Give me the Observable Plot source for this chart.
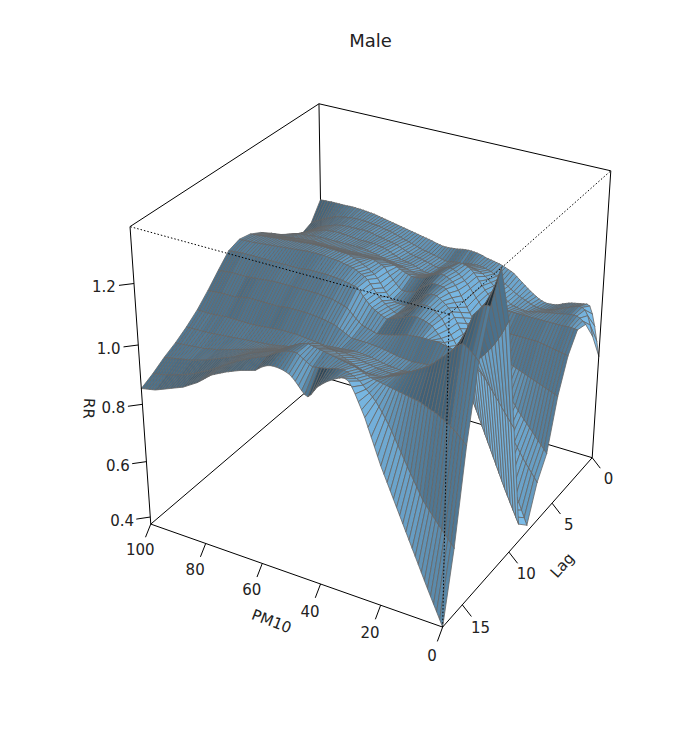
<!DOCTYPE html>
<html><head><meta charset="utf-8">
<script src="https://cdn.jsdelivr.net/npm/d3@7"></script>
<script src="https://cdn.jsdelivr.net/npm/@observablehq/plot@0.6"></script>
<style>html,body{margin:0;padding:0;background:#fff}</style></head>
<body><div id="chart"></div>
<script>
const title = "Male";
const pmValues = d3.range(0,101);
const lagValues = d3.range(0,18);
// RR x 1000, one row per lag (0..17), one column per PM10 (0..100)
const rrLag0=[749,800,850,890,915,919,917,915,913,911,909,906,902,898,893,889,887,886,885,886,889,893,899,905,912,919,927,935,943,951,959,964,968,972,976,979,981,983,985,987,989,993,995,997,998,999,999,998,997,995,993,992,991,990,990,990,992,994,996,999,1001,1003,1005,1007,1009,1011,1013,1015,1017,1019,1021,1023,1025,1027,1029,1031,1033,1035,1037,1039,1041,1042,1043,1044,1045,1046,1046,1047,1047,1047,1046,1046,1046,1046,1046,1046,1046,1045,1045,1044,1044];
const rrLag1=[849,885,915,932,938,939,936,932,928,923,919,915,910,906,902,899,897,896,896,897,899,903,907,911,915,919,924,930,936,943,949,956,962,968,974,979,982,985,987,988,989,988,987,985,982,979,981,980,978,976,974,975,977,980,982,985,987,989,991,993,996,999,1002,1005,1008,1011,1014,1017,1020,1023,1026,1028,1030,1032,1034,1036,1037,1038,1039,1040,1041,1041,1042,1042,1041,1041,1039,1038,1036,1034,1032,1029,1025,1021,1017,1012,1007,1002,997,992,986];
const rrLag2=[919,928,935,939,940,939,937,935,933,931,929,927,925,923,921,919,917,914,912,910,909,910,912,914,916,919,926,933,941,950,959,967,976,984,992,999,1003,1006,1008,1009,1009,1007,1004,1000,995,989,990,988,985,982,979,980,982,985,988,990,993,995,997,999,1001,1005,1009,1013,1017,1021,1023,1025,1027,1029,1031,1033,1035,1037,1039,1041,1041,1042,1042,1041,1041,1041,1041,1040,1040,1039,1037,1035,1032,1029,1026,1022,1018,1013,1007,1001,995,989,983,977,971];
const rrLag3=[929,930,931,931,930,929,929,929,929,929,929,929,929,929,929,929,929,929,929,929,929,929,929,929,930,932,937,944,951,960,969,980,992,1005,1018,1029,1038,1044,1048,1050,1049,1044,1037,1029,1019,1009,1002,997,992,988,986,987,988,990,994,998,1001,1003,1005,1007,1009,1012,1016,1020,1025,1029,1032,1034,1036,1038,1039,1039,1039,1039,1039,1039,1040,1041,1042,1043,1044,1044,1045,1045,1045,1044,1043,1042,1040,1037,1034,1031,1027,1023,1019,1014,1010,1005,1000,995,989];
const rrLag4=[869,871,873,875,877,879,881,883,885,887,889,889,889,889,889,889,889,889,889,889,889,892,895,898,903,909,919,930,942,955,969,981,994,1007,1019,1029,1038,1046,1052,1057,1059,1057,1052,1045,1037,1029,1023,1017,1013,1010,1008,1008,1009,1011,1014,1017,1019,1021,1023,1025,1027,1029,1031,1033,1035,1037,1039,1041,1043,1045,1047,1047,1047,1047,1047,1047,1047,1047,1047,1047,1047,1047,1047,1047,1047,1047,1046,1046,1045,1044,1042,1041,1040,1039,1037,1035,1032,1029,1026,1022,1017];
const rrLag5=[759,763,767,771,775,779,783,787,791,795,799,803,807,811,815,819,823,827,831,835,839,847,855,863,871,880,895,911,927,944,960,977,993,1010,1026,1040,1049,1056,1061,1064,1065,1062,1058,1053,1047,1040,1036,1033,1031,1030,1030,1034,1037,1041,1045,1050,1053,1055,1057,1059,1061,1061,1061,1061,1061,1061,1061,1061,1061,1061,1061,1061,1061,1061,1061,1061,1061,1061,1061,1061,1061,1061,1061,1061,1061,1061,1060,1059,1058,1057,1056,1055,1054,1053,1052,1051,1051,1051,1051,1051,1051];
const rrLag6=[589,601,613,625,637,649,661,673,685,697,709,723,737,751,765,779,791,803,815,827,839,853,867,881,895,910,926,942,958,974,990,1004,1018,1031,1044,1055,1059,1061,1062,1062,1060,1054,1047,1039,1030,1020,1016,1013,1011,1010,1010,1018,1028,1038,1049,1060,1074,1078,1082,1086,1089,1089,1089,1089,1089,1089,1089,1089,1089,1089,1089,1089,1089,1089,1089,1089,1089,1089,1089,1089,1089,1088,1087,1086,1085,1084,1084,1084,1084,1084,1084,1083,1082,1081,1080,1079,1079,1079,1079,1079,1079];
const rrLag7=[519,533,547,561,575,589,605,621,637,653,669,687,705,723,741,759,777,795,813,831,850,868,886,904,922,940,956,972,988,1004,1020,1030,1039,1047,1054,1060,1061,1060,1056,1049,1040,1031,1022,1014,1006,1000,998,998,999,1001,1005,1014,1026,1038,1052,1065,1076,1082,1088,1094,1099,1104,1108,1112,1116,1119,1120,1120,1121,1121,1122,1122,1122,1122,1122,1122,1122,1121,1121,1120,1119,1118,1117,1116,1115,1114,1113,1112,1111,1110,1109,1108,1107,1106,1105,1104,1103,1102,1101,1100,1099];
const rrLag8=[399,423,447,471,495,519,543,567,591,615,639,663,687,711,735,759,779,799,819,840,860,878,896,914,932,950,965,980,995,1010,1025,1033,1041,1047,1052,1055,1055,1053,1048,1040,1030,1024,1018,1012,1006,1000,1004,1010,1016,1023,1030,1040,1051,1063,1076,1088,1095,1100,1105,1110,1114,1116,1118,1120,1122,1124,1125,1126,1127,1128,1129,1129,1129,1129,1129,1129,1128,1127,1126,1125,1124,1123,1122,1121,1120,1119,1118,1117,1116,1115,1114,1113,1112,1111,1110,1109,1109,1108,1108,1107,1107];
const rrLag9=[439,461,483,505,527,549,573,597,621,645,669,693,717,741,765,789,811,833,855,877,900,915,930,945,960,975,986,997,1008,1019,1030,1034,1038,1041,1043,1045,1044,1042,1039,1035,1030,1026,1022,1018,1014,1010,1014,1019,1024,1029,1035,1044,1054,1065,1077,1088,1091,1093,1095,1097,1099,1100,1101,1102,1103,1104,1104,1104,1104,1104,1104,1104,1103,1102,1100,1099,1099,1099,1099,1099,1099,1099,1099,1099,1099,1099,1099,1099,1099,1099,1099,1099,1099,1099,1099,1099,1098,1097,1096,1095,1094];
const rrLag10=[809,823,837,851,865,880,894,908,922,936,950,960,970,980,990,1000,1002,1004,1006,1008,1010,1012,1014,1016,1018,1020,1020,1020,1020,1020,1020,1019,1018,1017,1016,1015,1012,1009,1006,1003,1000,998,996,994,992,990,993,996,999,1002,1005,1013,1021,1030,1040,1049,1052,1055,1058,1061,1064,1065,1066,1067,1068,1069,1069,1069,1069,1069,1069,1069,1069,1069,1069,1069,1069,1069,1069,1069,1069,1068,1067,1066,1065,1064,1063,1062,1061,1060,1059,1059,1059,1059,1059,1059,1058,1057,1056,1055,1054];
const rrLag11=[1189,1165,1143,1124,1106,1090,1076,1063,1051,1040,1030,1023,1017,1011,1005,1000,997,994,991,988,985,983,981,979,977,975,974,973,972,971,970,971,972,973,974,975,977,979,981,983,985,986,987,988,989,990,990,990,990,990,990,995,1000,1005,1010,1015,1019,1021,1023,1025,1027,1028,1029,1030,1031,1032,1032,1032,1032,1032,1032,1032,1031,1030,1028,1027,1027,1027,1027,1027,1027,1027,1027,1027,1027,1027,1026,1024,1022,1019,1017,1017,1017,1017,1017,1017,1016,1015,1014,1013,1012];
const rrLag12=[1379,1345,1312,1280,1250,1220,1192,1165,1139,1114,1090,1077,1065,1053,1041,1030,1024,1018,1012,1006,1000,996,992,988,984,980,978,976,974,972,970,971,972,973,974,975,977,979,981,983,985,986,987,988,989,990,989,988,987,986,985,984,983,982,981,979,980,981,982,983,984,985,986,987,988,989,989,989,989,989,989,988,987,986,985,984,983,982,981,980,979,979,979,979,979,979,979,979,979,979,979,978,977,976,975,974,974,974,974,974,974];
const rrLag13=[1289,1290,1285,1275,1262,1250,1222,1195,1170,1148,1130,1114,1100,1087,1073,1060,1054,1048,1042,1036,1030,1025,1020,1015,1010,1005,1002,999,996,993,990,991,992,993,994,995,997,999,1001,1003,1005,1007,1009,1011,1013,1015,1014,1013,1012,1011,1010,1007,1004,1001,998,995,997,995,993,991,989,987,985,983,981,979,977,975,973,971,969,968,967,966,965,964,963,962,961,960,959,958,957,956,955,954,953,952,951,950,949,948,947,947,946,946,946,945,945,944,944];
const rrLag14=[1149,1160,1170,1178,1185,1190,1183,1172,1161,1150,1140,1130,1120,1110,1100,1090,1084,1078,1072,1066,1060,1054,1048,1042,1036,1030,1026,1022,1018,1014,1010,1010,1010,1010,1010,1010,1014,1018,1022,1026,1030,1034,1038,1042,1046,1050,1051,1052,1054,1056,1059,1056,1053,1049,1044,1039,1033,1027,1021,1015,1009,1007,1005,1003,1001,999,996,993,990,987,984,981,978,975,972,969,966,963,960,957,954,951,948,945,942,939,937,935,933,931,929,928,927,926,925,924,923,922,921,920,919];
const rrLag15=[914,924,934,943,951,959,966,972,978,984,989,993,997,1001,1005,1009,1011,1013,1015,1017,1019,1021,1023,1025,1027,1029,1031,1033,1035,1037,1039,1043,1047,1051,1055,1059,1061,1063,1065,1067,1069,1071,1073,1075,1077,1079,1081,1083,1085,1087,1089,1087,1084,1080,1075,1069,1064,1058,1052,1046,1039,1035,1031,1027,1023,1019,1015,1011,1007,1003,999,994,989,984,979,974,970,966,962,958,954,950,946,942,938,934,931,928,925,922,919,917,915,913,911,909,907,905,903,901,899];
const rrLag16=[609,621,633,645,657,669,682,695,708,721,734,753,772,791,810,829,849,869,889,909,929,947,964,980,995,1009,1020,1030,1039,1049,1059,1064,1069,1073,1076,1079,1078,1077,1075,1072,1069,1067,1065,1063,1061,1059,1064,1070,1076,1083,1089,1089,1088,1086,1083,1079,1074,1068,1062,1056,1049,1045,1041,1037,1033,1029,1024,1019,1014,1009,1004,998,992,986,980,974,968,962,956,950,944,939,934,929,924,919,915,911,907,903,899,896,893,890,887,884,882,880,878,876,874];
const rrLag17=[374,397,420,443,466,489,513,537,561,585,609,633,657,681,705,729,753,777,801,825,849,877,905,933,961,989,1011,1033,1055,1074,1089,1094,1094,1090,1085,1079,1073,1066,1058,1049,1040,1025,1010,1000,1004,1014,1026,1038,1048,1055,1059,1062,1064,1065,1065,1064,1061,1056,1050,1042,1034,1031,1028,1025,1022,1019,1015,1011,1007,1003,999,994,989,984,979,974,966,958,950,942,934,928,922,916,910,904,900,896,892,888,884,880,876,872,868,864,862,860,858,856,854];
const rr=[rrLag0,rrLag1,rrLag2,rrLag3,rrLag4,rrLag5,rrLag6,rrLag7,rrLag8,rrLag9,rrLag10,rrLag11,rrLag12,rrLag13,rrLag14,rrLag15,rrLag16,rrLag17].map(r=>r.map(v=>v/1000));
const pmTicks=[0,20,40,60,80,100], lagTicks=[0,5,10,15], rrTicks=[0.4,0.6,0.8,1.0,1.2];
const pmLim=[0,100], lagLim=[0,17], rrLim=[0.374,1.379];
const view={theta:210,phi:30,r:Math.sqrt(3),d:5};
const light={theta:-65,phi:0,shade:0.5};
const base=[126,192,238];
const rad=Math.PI/180;
const nx=p=>(p-50)/50, ny=l=>(l-8.5)/8.5, nz=z=>(z-(rrLim[0]+rrLim[1])/2)/((rrLim[1]-rrLim[0])/2);
function projN(X,Y,Z){
  const c=Math.cos(view.theta*rad),s=Math.sin(view.theta*rad),cp=Math.cos(view.phi*rad),sp=Math.sin(view.phi*rad);
  const vx=X*c+Y*s, zz=X*s-Y*c, vy=Z*cp-zz*sp, vz=Z*sp+zz*cp;
  const w=2+(view.r-vz)/view.d;
  return {x:vx/w,y:vy/w};
}
const proj=(p,l,z)=>projN(nx(p),ny(l),nz(z));
const L=(()=>{const t=light.theta*rad,f=light.phi*rad;return [Math.sin(t)*Math.cos(f),-Math.cos(t)*Math.cos(f),Math.sin(f)]})();
const facets=[];
let id=0;
for(let j=0;j<lagValues.length-1;j++){
  for(let i=pmValues.length-2;i>=0;i--){
    const P=[[i,j],[i+1,j],[i+1,j+1],[i,j+1]];
    const a=P.map(([u,v])=>[nx(pmValues[u]),ny(lagValues[v]),nz(rr[v][u])]);
    const e1=[a[2][0]-a[0][0],a[2][1]-a[0][1],a[2][2]-a[0][2]],e2=[a[3][0]-a[1][0],a[3][1]-a[1][1],a[3][2]-a[1][2]];
    let n=[e1[1]*e2[2]-e1[2]*e2[1],e1[2]*e2[0]-e1[0]*e2[2],e1[0]*e2[1]-e1[1]*e2[0]];
    if(n[2]<0)n=n.map(v=>-v);
    const len=Math.hypot(...n);
    const dot=(n[0]*L[0]+n[1]*L[1]+n[2]*L[2])/len;
    const f=Math.pow((1+dot)/2,light.shade);
    const color=`rgb(${base.map(v=>Math.round(v*f)).join(",")})`;
    [...P,P[0]].forEach(([u,v])=>{const q=proj(pmValues[u],lagValues[v],rr[v][u]);facets.push({id,x:q.x,y:q.y,color})});
    id++;
  }
}
const [p0,p1]=pmLim,[l0,l1]=lagLim,[z0,z1]=rrLim;
const edge=(a,b)=>{const A=proj(...a),B=proj(...b);return {x1:A.x,y1:A.y,x2:B.x,y2:B.y}};
const backEdges=[edge([p1,l0,z0],[p1,l1,z0]),edge([p1,l0,z0],[p0,l0,z0]),edge([p1,l0,z0],[p1,l0,z1]),
  edge([p1,l0,z1],[p1,l1,z1]),edge([p1,l0,z1],[p0,l0,z1])];
const frontSolid=[edge([p1,l1,z0],[p0,l1,z0]),edge([p0,l1,z0],[p0,l0,z0]),edge([p1,l1,z0],[p1,l1,z1]),edge([p0,l0,z0],[p0,l0,z1])];
const dotted=[edge([p0,l1,z1],[p1,l1,z1]),edge([p0,l1,z1],[p0,l0,z1]),edge([p0,l1,z1],[p0,l1,z0])];
const tk=0.06;
const ticks=[],labels=[];
function addTick(X,Y,Z,dX,dY,dZ,text){
  const A=projN(X,Y,Z),B=projN(X+dX*tk,Y+dY*tk,Z+dZ*tk),C=projN(X+dX*tk*2,Y+dY*tk*2,Z+dZ*tk*2);
  ticks.push({x1:A.x,y1:A.y,x2:B.x,y2:B.y});labels.push({x:C.x,y:C.y,text});
}
pmTicks.forEach(v=>addTick(nx(v),1,-1,0,1,-1,String(v)));
lagTicks.forEach(v=>addTick(-1,ny(v),-1,-1,0,-1,String(v)));
rrTicks.forEach(v=>addTick(1,1,nz(v),1,1,0,v.toFixed(1)));
const sc=395,cx=376.7,cy=349.7;
const px=(x,y)=>({x:(x-cx)/sc,y:(cy-y)/sc});
const textMarks=[{...px(271,621),t:"PM10",r:21,s:15},{...px(562,565),t:"Lag",r:-48,s:15},{...px(88,408),t:"RR",r:93,s:15},{...px(370,41),t:title,r:0,s:18}];
const chart=Plot.plot({
  width:700,height:750,margin:0,
  x:{domain:[(0-cx)/sc,(700-cx)/sc],range:[0,700],axis:null},
  y:{domain:[(cy-750)/sc,cy/sc],range:[750,0],axis:null},
  color:{type:"identity"},
  style:{fontFamily:"'DejaVu Sans',sans-serif",background:"#fff"},
  marks:[
    Plot.link(backEdges,{x1:"x1",y1:"y1",x2:"x2",y2:"y2",stroke:"#000",strokeWidth:1}),
    Plot.line(facets,{x:"x",y:"y",z:"id",fill:"color",stroke:"#666",strokeWidth:0.8}),
    Plot.link(frontSolid,{x1:"x1",y1:"y1",x2:"x2",y2:"y2",stroke:"#000",strokeWidth:1}),
    Plot.link(dotted,{x1:"x1",y1:"y1",x2:"x2",y2:"y2",stroke:"#000",strokeWidth:1,strokeDasharray:"1.5,2"}),
    Plot.link(ticks,{x1:"x1",y1:"y1",x2:"x2",y2:"y2",stroke:"#000",strokeWidth:1}),
    Plot.text(labels,{x:"x",y:"y",text:"text",fontSize:15,fill:"#222"}),
    ...textMarks.map(d=>Plot.text([d],{x:"x",y:"y",text:"t",rotate:d.r,fontSize:d.s,fill:"#222"}))
  ]
});
document.getElementById("chart").append(chart);
</script></body></html>
